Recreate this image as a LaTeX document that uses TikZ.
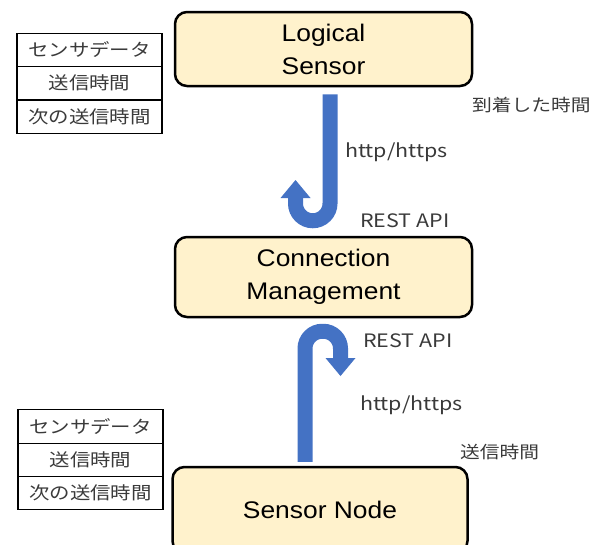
\documentclass[tikz,border=0pt]{standalone}
\usepackage{fontspec}
\setmainfont[FakeStretch=1.1]{Liberation Sans}
\newfontfamily\jp[FakeStretch=1.16]{Noto Sans CJK JP}
\usetikzlibrary{arrows.meta}
\definecolor{boxfill}{HTML}{FFF2CC}
\definecolor{arrowblue}{HTML}{4472C4}
\definecolor{labelgray}{HTML}{3A3A3A}
\tikzset{
  box/.style={draw, line width=2.5pt, rounded corners=12pt, fill=boxfill,
    minimum width=297pt, align=center, font=\fontsize{24}{33}\selectfont},
  cell/.style={draw, line width=1.2pt, minimum width=145pt, minimum height=33.3pt,
    inner sep=0pt, text=labelgray, font=\jp\fontsize{17.6}{20}\selectfont},
  lbl/.style={anchor=base west, inner sep=0pt, text=labelgray},
  lbljp/.style={lbl, font=\jp\fontsize{17}{20}\selectfont},
  lblen/.style={lbl, font=\jp\fontsize{18.5}{22}\selectfont},
  uarrow/.style={draw=arrowblue, line width=15pt, rounded corners=17.25pt,
    -{Triangle[width=30pt,length=18pt,line width=0pt]}}
}
\begin{document}
\begin{tikzpicture}[x=1pt,y=-1pt]
  \useasboundingbox (0,0) rectangle (602,544);
  % boxes
  \node[box, minimum height=74pt] (ls) at (323.5,49) {Logical\\Sensor};
  \node[box, minimum height=80pt] (cm) at (323.5,277) {Connection\\Management};
  \node[box, minimum height=86pt, minimum width=295pt] (sn) at (320,510) {Sensor Node};
  % tables
  \node[cell] (t1) at (89.5,50) {センサデータ};
  \node[cell] (t2) at (89.5,83.3) {送信時間};
  \node[cell] (t3) at (89.5,116.6) {次の送信時間};
  \node[cell] (b1) at (90.5,426.5) {センサデータ};
  \node[cell] (b2) at (90.5,459.8) {送信時間};
  \node[cell] (b3) at (90.5,493.1) {次の送信時間};
  % labels
  \node[lbljp] (arr) at (472,111) {到着した時間};
  \node[lblen] (h1) at (345,157) {http/https};
  \node[lblen] (r1) at (360,227) {REST API};
  \node[lblen] (r2) at (363,347) {REST API};
  \node[lblen] (h2) at (360,410) {http/https};
  \node[lbljp] (snd) at (460,458) {送信時間};
  % u-turn arrows
  \coordinate (tip1) at (295.5,180);
  \coordinate (tip2) at (340.5,376);
  \draw[uarrow] ([xshift=6.5pt,yshift=-7pt]ls.south) -- ++(0,126.5) -| (tip1);
  \draw[uarrow] ([xshift=-15pt,yshift=4pt]sn.north) -- ++(0,-130.5) -| (tip2);
\end{tikzpicture}
\end{document}
